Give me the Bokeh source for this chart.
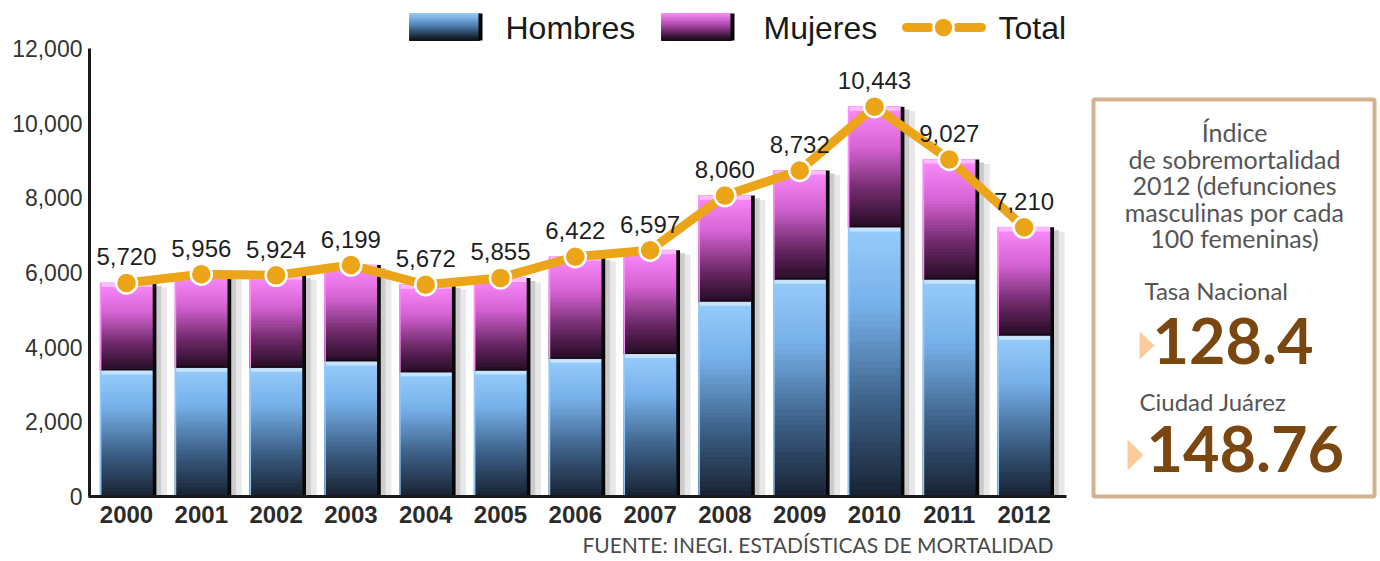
from bokeh.plotting import figure
from bokeh.models import Range1d, FixedTicker, NumeralTickFormatter, Title, ColumnDataSource
from bokeh.core.properties import value
from bokeh.embed import file_html
from bokeh.resources import INLINE

# ---------------- data ----------------
years = ["2000", "2001", "2002", "2003", "2004", "2005", "2006",
         "2007", "2008", "2009", "2010", "2011", "2012"]
hombres = [3380, 3450, 3450, 3620, 3330, 3375, 3690, 3820, 5220, 5810, 7210, 5810, 4310]
total = [5720, 5956, 5924, 6199, 5672, 5855, 6422, 6597, 8060, 8732, 10443, 9027, 7210]
mujeres = [t - h for t, h in zip(total, hombres)]
y_ticks = [0, 2000, 4000, 6000, 8000, 10000, 12000]
legend_labels = ["Hombres", "Mujeres", "Total"]
box_lines = ["Índice", "de sobremortalidad", "2012 (defunciones",
             "masculinas por cada", "100 femeninas)"]
rate_labels = ["Tasa Nacional", "Ciudad Juárez"]
rate_values = [128.4, 148.76]
source_note = "FUENTE: INEGI. ESTADÍSTICAS DE MORTALIDAD"

# ---------------- layout helpers (page pixels -> data) ----------------
W, H = 1380, 561
X0_PAGE, PX_X = 126.0, 74.8          # centre of first bar, px per category
Y0_PAGE, PX_Y = 496.0, 448.0 / 12000  # y of zero, px per unit
FRAME_L, FRAME_R, FRAME_T, FRAME_B = 86, 1380, 0, 499


def dx(px):
    return (px - X0_PAGE) / PX_X


def dy(py):
    return (Y0_PAGE - py) / PX_Y


ORANGE = "#ECA519"
BLUE_STOPS = [(0.0, (150, 205, 252)), (0.3, (118, 176, 232)), (0.65, (62, 98, 138)), (1.0, (24, 34, 50))]
PINK_STOPS = [(0.0, (252, 140, 252)), (0.35, (212, 98, 210)), (0.7, (110, 42, 106)), (1.0, (38, 12, 36))]


def interp(stops, t):
    for (p0, c0), (p1, c1) in zip(stops[:-1], stops[1:]):
        if t <= p1:
            f = (t - p0) / (p1 - p0)
            return "#%02x%02x%02x" % tuple(int(round(a + (b - a) * f)) for a, b in zip(c0, c1))
    return "#%02x%02x%02x" % stops[-1][1]


def gradient(xs, bottoms, tops, stops, n=40):
    d = dict(x=[], top=[], bottom=[], color=[])
    for x, b, t in zip(xs, bottoms, tops):
        for i in range(n):
            d["x"].append(x)
            d["top"].append(t - (t - b) * i / n)
            d["bottom"].append(t - (t - b) * (i + 1) / n)
            d["color"].append(interp(stops, (i + 0.5) / n))
    return ColumnDataSource(d)


p = figure(width=W, height=H, output_backend="svg", toolbar_location=None,
           x_range=Range1d(dx(FRAME_L), dx(FRAME_R)),
           y_range=Range1d(dy(FRAME_B), dy(FRAME_T)),
           min_border_left=FRAME_L, min_border_right=W - FRAME_R,
           min_border_top=FRAME_T, min_border_bottom=H - FRAME_B)
p.outline_line_color = None
p.xgrid.visible = False
p.ygrid.visible = False
p.background_fill_color = "white"

idx = list(range(len(years)))

# axes
p.xaxis.ticker = FixedTicker(ticks=idx)
p.xaxis.major_label_overrides = {i: y for i, y in enumerate(years)}
p.xaxis.axis_line_color = None
p.xaxis.major_tick_line_color = None
p.xaxis.major_tick_out = 0
p.xaxis.major_tick_in = 0
p.xaxis.minor_tick_line_color = None
p.xaxis.major_label_standoff = 6
p.xaxis.major_label_text_font = "Liberation Sans"
p.xaxis.major_label_text_font_style = "bold"
p.xaxis.major_label_text_font_size = "24px"
p.xaxis.major_label_text_color = "#2b2b2b"

p.yaxis.ticker = FixedTicker(ticks=y_ticks)
p.yaxis.formatter = NumeralTickFormatter(format="0,0")
p.yaxis.axis_line_color = None
p.yaxis.major_tick_line_color = None
p.yaxis.major_tick_out = 0
p.yaxis.major_tick_in = 0
p.yaxis.minor_tick_line_color = None
p.yaxis.major_label_standoff = 4
p.yaxis.major_label_text_font = "Liberation Sans"
p.yaxis.major_label_text_font_size = "23px"
p.yaxis.major_label_text_color = "#333333"

# bar shadows
sh1 = ColumnDataSource(dict(x=[i + 0.43 for i in idx], top=[t - 80 for t in total]))
sh2 = ColumnDataSource(dict(x=[i + 0.50 for i in idx], top=[t - 120 for t in total]))
p.vbar(x="x", width=0.07, top="top", bottom=0, source=sh1, fill_color="#a8a8a8", line_color=None, fill_alpha=0.6)
p.vbar(x="x", width=0.08, top="top", bottom=0, source=sh2, fill_color="#d8d8d8", line_color=None, fill_alpha=0.6)

# stacked gradient bars
hs = gradient(idx, [0] * len(idx), hombres, BLUE_STOPS)
ms = gradient(idx, hombres, total, PINK_STOPS)
for src in (hs, ms):
    p.vbar(x="x", width=0.70, top="top", bottom="bottom", source=src,
           fill_color="color", line_color="color", line_width=1)

# bevel highlights at segment tops
hl = 110
p.vbar(x=idx, width=0.70, top=hombres, bottom=[h - hl for h in hombres],
       fill_color="#cfe8ff", line_color=None, fill_alpha=0.85)
p.vbar(x=idx, width=0.70, top=total, bottom=[t - hl for t in total],
       fill_color="#ffc4ff", line_color=None, fill_alpha=0.85)
# dark line between segments
p.vbar(x=idx, width=0.70, top=[h + 40 for h in hombres], bottom=hombres,
       fill_color="#120812", line_color=None)
# light left edge and dark right edge
p.vbar(x=[i - 0.345 for i in idx], width=0.02, top=hombres, bottom=0,
       fill_color="#8ec8ff", line_color=None)
p.vbar(x=[i - 0.345 for i in idx], width=0.02, top=total, bottom=hombres,
       fill_color="#ff8cff", line_color=None)
p.vbar(x=[i + 0.375 for i in idx], width=0.05, top=total, bottom=0,
       fill_color="#080808", line_color=None)

# axis lines
p.segment(x0=[dx(89)], y0=[0], x1=[dx(89)], y1=[y_ticks[-1]], line_color="#1a1a1a", line_width=3)
p.segment(x0=[dx(88)], y0=[0], x1=[dx(1066)], y1=[0], line_color="#1a1a1a", line_width=3)

# total line
p.line(x=idx, y=total, line_color=ORANGE, line_width=9, line_join="round")
p.scatter(x=idx, y=total, size=21, fill_color=ORANGE, line_color="white", line_width=2.5)
p.text(x=idx, y=total, text=[f"{v:,}" for v in total], y_offset=-26,
       text_align="center", text_baseline="middle",
       text_font=value("Liberation Sans"), text_font_size="24px", text_color="#1f1f1f")

# ---------------- legend (manual) ----------------
sw_top, sw_bot = dy(13), dy(40)
lg1 = gradient([dx(444)], [sw_bot], [sw_top], [(0.0, (150, 205, 252)), (0.45, (80, 130, 180)), (1.0, (10, 16, 24))], n=20)
lg2 = gradient([dx(696)], [sw_bot], [sw_top], [(0.0, (252, 140, 252)), (0.45, (170, 70, 168)), (1.0, (20, 6, 20))], n=20)
for src in (lg1, lg2):
    p.vbar(x="x", width=70 / PX_X, top="top", bottom="bottom", source=src,
           fill_color="color", line_color="color", line_width=1)
p.vbar(x=[dx(480), dx(732)], width=4 / PX_X, top=sw_top, bottom=sw_bot, fill_color="#050505", line_color=None)
p.segment(x0=[dx(906), dx(957)], y0=[dy(27)] * 2, x1=[dx(929), dx(981)], y1=[dy(27)] * 2,
          line_color=ORANGE, line_width=9, line_cap="round")
p.scatter(x=[dx(943)], y=[dy(27)], size=20, fill_color=ORANGE, line_color="white", line_width=2.5)
p.text(x=[dx(505), dx(763), dx(998)], y=[dy(27)] * 3, text=legend_labels,
       text_align="left", text_baseline="middle",
       text_font=value("Liberation Sans"), text_font_size="32px", text_color="#1a1a1a")

# ---------------- side box ----------------
p.quad(left=[dx(1093)], right=[dx(1374)], top=[dy(99)], bottom=[dy(496)],
       fill_color="white", line_color="#D4B291", line_width=4)
p.text(x=[dx(1234)] * len(box_lines), y=[dy(c) for c in (131, 158, 184.5, 211, 237.5)],
       text=box_lines, text_align="center", text_baseline="middle",
       text_font=value("Lato"), text_font_size="25px", text_color="#555555")
p.text(x=[dx(1144), dx(1139)], y=[dy(290), dy(401)], text=rate_labels,
       text_align="left", text_baseline="middle",
       text_font=value("Lato"), text_font_size="24px", text_color="#555555")
p.text(x=[dx(1152), dx(1146)], y=[dy(340), dy(448.5)], text=[f"{v}" for v in rate_values],
       text_align="left", text_baseline="middle",
       text_font=value("Lato"), text_font_style="bold", text_font_size="63px", text_color="#7A4710")
p.patches(xs=[[dx(1139), dx(1139), dx(1154)], [dx(1127), dx(1127), dx(1143)]],
          ys=[[dy(331), dy(359), dy(345)], [dy(439), dy(470), dy(454.5)]],
          fill_color="#FDCB9A", line_color=None)

# ---------------- source note (title below the axis) ----------------
note = Title(text=source_note, align="right", offset=FRAME_R - 1053, standoff=9,
             text_font="Lato", text_font_size="21px", text_font_style="normal",
             text_color="#4a4a4a")
p.add_layout(note, "below")

open("out.html", "w").write(file_html(p, INLINE))
